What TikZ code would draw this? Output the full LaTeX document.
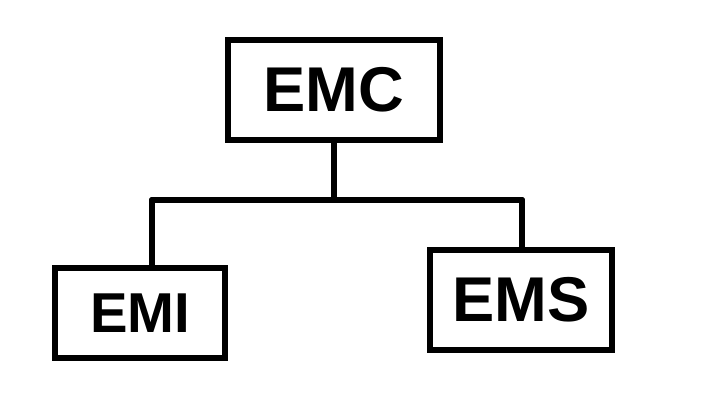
\documentclass[tikz,border=0pt]{standalone}
\usepackage{fontspec}
\setmainfont{Liberation Sans}
\tikzset{
  unit/.style={draw,line width=3.4pt,shape=rectangle,inner sep=0pt,font=\fontsize{36}{36}\bfseries\selectfont},
  link/.style={line width=3.4pt,line cap=round}
}
\begin{document}
\begin{tikzpicture}
\useasboundingbox[fill=white] (0,0) rectangle (14.32,8.14);
\path (6.68,6.34) node(emc) [unit,minimum width=4.24cm,minimum height=2.0cm] {EMC};
\path (2.8,1.88) node(emi) [unit,minimum width=3.4cm,minimum height=1.8cm,font=\fontsize{32}{32}\bfseries\selectfont] {EMI};
\path (10.42,2.14) node(ems) [unit,minimum width=3.64cm,minimum height=2.0cm] {EMS};
\coordinate (busL) at (3.04,4.14);
\coordinate (busR) at (10.44,4.14);
\draw[link] (emc.south) -- (emc.south |- busL);
\draw[link] (busL) -- (busR);
\draw[link] (busL) -- (busL |- emi.north);
\draw[link] (busR) -- (busR |- ems.north);
\end{tikzpicture}
\end{document}
